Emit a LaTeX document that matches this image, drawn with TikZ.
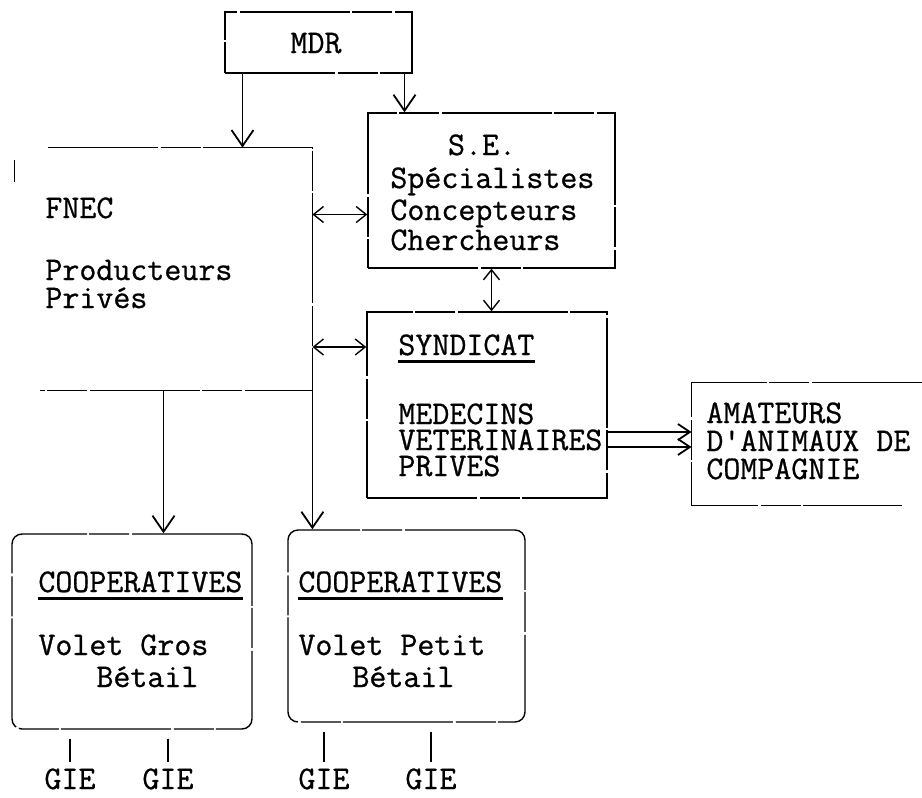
\documentclass[tikz,border=0pt]{standalone}
\usepackage{fontspec}
\setmonofont{Latin Modern Mono}[FakeBold=0.8]
\usepackage{tikz}
\usetikzlibrary{arrows.meta, positioning, calc, fit}

\begin{document}
\begin{tikzpicture}[
      x=0.5pt, y=-0.5pt,
      cadre/.style ={draw, line width=0.7pt, inner sep=0pt,
                     dash pattern=on 55pt off 1.5pt on 20pt off 1pt},
      vide/.style  ={inner sep=0pt},
      coop/.style  ={cadre, rounded corners=5pt},
      texte/.style ={font=\ttfamily\fontsize{16.5}{20}\selectfont,
                     inner sep=0pt, anchor=base west},
      fl/.style    ={-{Straight Barb[length=8pt,width=11pt]}, line width=0.9pt},
      flp/.style   ={-{Straight Barb[length=6pt,width=8pt]}, line width=0.9pt},
      fld/.style   ={{Straight Barb[length=5pt,width=8pt]}-{Straight Barb[length=5pt,width=8pt]},
                     line width=0.7pt},
      souligne/.style={line width=1.5pt},
      trait/.style ={line width=1pt}]
  \useasboundingbox (0,0) rectangle (922,798);

  \node[cadre, fit={(225,12) (412,73)}] (mdr) {};
  \node[texte, anchor=base] (mdrt) at (316,53) {MDR};

  \node[vide, fit={(15,148) (312,390)}] (fnec) {};
  \draw[cadre] ($(fnec.north west)+(33,0)$) -- (fnec.north east)
    -- (fnec.south east) -- ($(fnec.south west)+(25,0)$);
  \draw[cadre] ($(fnec.north west)+(0,12)$) -- ++(0,22);
  \node[texte] (fnect) at (45,218) {FNEC};
  \node[texte] (prod)  at (45,280) {Producteurs};
  \node[texte] (priv)  at (45,308) {Privés};

  \node[cadre, fit={(368,113) (615,268)}] (se) {};
  \node[texte, anchor=base] (set) at (482,155) {S.E.};
  \node[texte] (spec) at (390,188) {Spécialistes};
  \node[texte] (conc) at (390,220) {Concepteurs};
  \node[texte] (cher) at (390,250) {Chercheurs};

  \node[cadre, fit={(367,312) (607,498)}] (synd) {};
  \node[texte] (syndt) at (398,355) {SYNDICAT};
  \draw[souligne] ([yshift=-3pt]syndt.south west) -- ([yshift=-3pt]syndt.south east);
  \node[texte] (med) at (398,424) {MEDECINS};
  \node[texte] (vet) at (398,450) {VETERINAIRES};
  \node[texte] (prv) at (398,476) {PRIVES};

  \node[vide, fit={(692,383) (922,505)}] (amat) {};
  \draw[cadre] (amat.north east) -- (amat.north west) -- (amat.south west)
    -- ($(amat.south east)+(-20,0)$);
  \node[texte] (ama1) at (706,423) {AMATEURS};
  \node[texte] (ama2) at (706,451) {D'ANIMAUX DE};
  \node[texte] (ama3) at (706,479) {COMPAGNIE};

  \node[coop, fit={(12,534) (252,729)}] (coop1) {};
  \node[texte] (coopt1) at (38,592) {COOPERATIVES};
  \draw[souligne] ([yshift=-3pt]coopt1.south west) -- ([yshift=-3pt]coopt1.south east);
  \node[texte] (gros)  at (38,655) {Volet Gros};
  \node[texte] (bet1)  at (96,687) {Bétail};

  \node[coop, fit={(288,530) (525,722)}] (coop2) {};
  \node[texte] (coopt2) at (298,592) {COOPERATIVES};
  \draw[souligne] ([yshift=-3pt]coopt2.south west) -- ([yshift=-3pt]coopt2.south east);
  \node[texte] (petit) at (298,655) {Volet Petit};
  \node[texte] (bet2)  at (352,687) {Bétail};

  \node[texte, anchor=base] (gie1) at (70,789)  {GIE};
  \node[texte, anchor=base] (gie2) at (168,789) {GIE};
  \node[texte, anchor=base] (gie3) at (324,789) {GIE};
  \node[texte, anchor=base] (gie4) at (431,789) {GIE};

  \draw[fl] ([xshift=-38pt]mdr.south) -- ([xshift=-38pt]mdr.south |- fnec.north);
  \draw[fl] ([xshift=43pt]mdr.south) -- ([xshift=43pt]mdr.south |- se.north);
  \draw[fld] ([yshift=-12pt]se.west) -- ([yshift=-12pt]se.west -| fnec.east);
  \draw[fld] ([yshift=29pt]synd.west) -- ([yshift=29pt]synd.west -| fnec.east);
  \draw[fld] (se.south) -- (se.south |- synd.north);
  \draw[flp] ([yshift=-13.5pt]synd.east) -- ([yshift=-13.5pt]synd.east -| amat.west);
  \draw[flp] ([yshift=-21pt]synd.east) -- ([yshift=-21pt]synd.east -| amat.west);
  \draw[fl] (fnec.south) -- (fnec.south |- coop1.north);
  \draw[fl] (fnec.south east) -- (fnec.south east |- coop2.north);
  \foreach \g/\c in {gie1/coop1,gie2/coop1,gie3/coop2,gie4/coop2}
    \draw[trait] ($(\g.north |- \c.south)+(0,9)$) -- ($(\g.north)+(0,-6)$);
\end{tikzpicture}
\end{document}
